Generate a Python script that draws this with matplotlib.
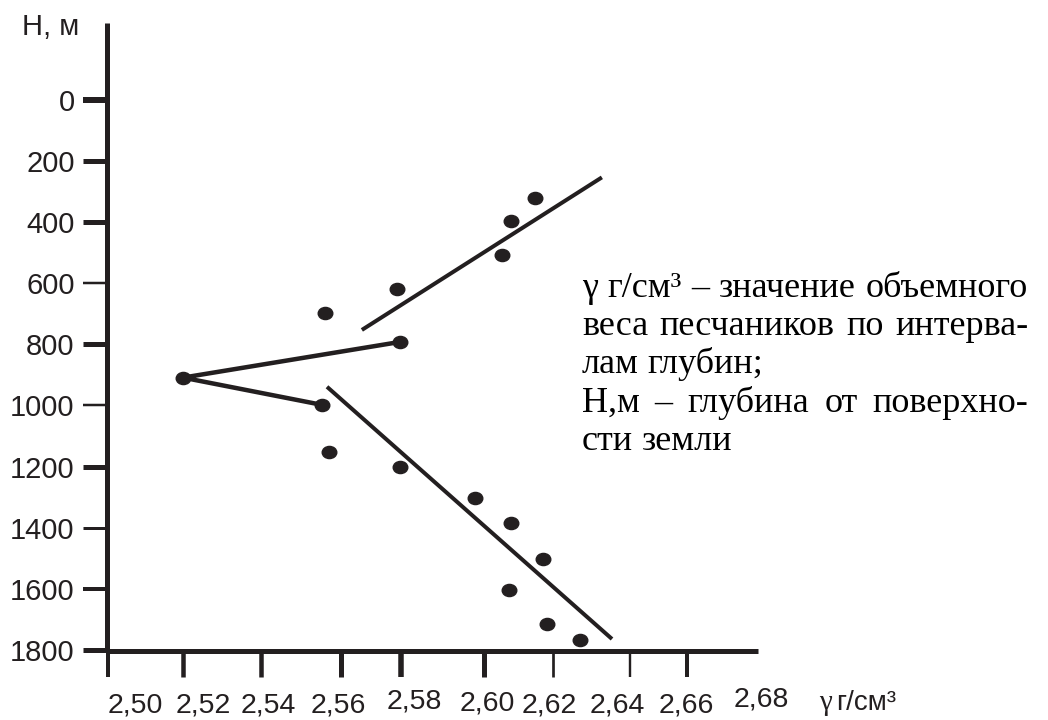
import matplotlib
matplotlib.use("Agg")
import matplotlib.pyplot as plt
import matplotlib.transforms as mtransforms
from matplotlib.path import Path

# Volume weight of sandstones vs depth
gamma = [2.614, 2.6075, 2.605, 2.577, 2.558, 2.578, 2.520, 2.557,
         2.559, 2.578, 2.598, 2.6075, 2.616, 2.607, 2.617, 2.626]
depth = [320, 398, 509, 619, 698, 792, 909, 998,
         1151, 1203, 1304, 1386, 1503, 1604, 1715, 1767]

# trend lines (gamma, depth) end points
upper_line_g = [2.5677, 2.6317]
upper_line_h = [753, 254]
lower_line_g = [2.5584, 2.6344]
lower_line_h = [939, 1764]
zigzag_idx = [5, 6, 7]  # points joined by the broken line

# axis ticks as drawn in the original (hand placed)
x_tick_pos = [2.500, 2.520, 2.5408, 2.5621, 2.5781, 2.6003, 2.6187, 2.6392, 2.6544]
x_tick_width_px = [4, 4.5, 4.5, 5, 5.5, 5, 2.7, 2.4, 4]
x_labels = ["2,50", "2,52", "2,54", "2,56", "2,58", "2,60", "2,62", "2,64", "2,66", "2,68"]
x_label_at = [2.5072, 2.5253, 2.5427, 2.5613, 2.5816, 2.6011, 2.6176, 2.6357, 2.6541, 2.6741]
x_label_ypx = [705, 705, 705, 705, 702, 703, 706, 705, 705, 699]

y_ticks = [0, 200, 400, 600, 800, 1000, 1200, 1400, 1600, 1800]
y_tick_width_px = [6, 5, 5, 2.5, 5, 2.5, 5, 3, 4, 5]

note_lines = [
    ("γ г/см³ – значение объемного", True),
    ("веса песчаников по интерва-", True),
    ("лам глубин;", False),
    ("Н,м – глубина от поверхно-", True),
    ("сти земли", False),
]

INK = "#231f20"
W, H = 1048, 720
PT = 0.72  # points per pixel at dpi 100
SANS = ["Liberation Sans", "DejaVu Sans"]
SERIF = ["Liberation Serif", "DejaVu Serif"]

# slightly flattened dot, like the hand-drawn ones
ell = Path.unit_circle().transformed(mtransforms.Affine2D().scale(1.2, 1.0))

fig = plt.figure(figsize=(W / 100, H / 100), dpi=100)
ax = fig.add_axes([107 / W, (H - 651) / H, (758 - 107) / W, (651 - 23) / H])

x0 = 2.50 - 1 / 3750
ax.set_xlim(x0, x0 + 651 / 3750)
ax.set_ylim(1800 + 1 / 0.3067, -251)

for s in ["top", "right"]:
    ax.spines[s].set_visible(False)
for s in ["left", "bottom"]:
    ax.spines[s].set_linewidth(5 * PT)
    ax.spines[s].set_color(INK)
    ax.spines[s].set_capstyle("butt")

# data
ax.plot(gamma, depth, linestyle="none", marker=ell, color=INK, markersize=10.5,
        zorder=3, clip_on=False)
ax.plot(upper_line_g, upper_line_h, color=INK, lw=4 * PT, solid_capstyle="butt")
ax.plot(lower_line_g, lower_line_h, color=INK, lw=4 * PT, solid_capstyle="butt")
ax.plot([gamma[i] for i in zigzag_idx], [depth[i] for i in zigzag_idx],
        color=INK, lw=4.5 * PT, solid_capstyle="butt", solid_joinstyle="miter")

# y axis ticks
ax.set_yticks(y_ticks)
ax.set_yticklabels([str(v) for v in y_ticks], fontsize=21, family=SANS, color=INK)
ax.tick_params(axis="y", direction="out", length=24 * PT, pad=6, color=INK)
for t, w in zip(ax.yaxis.get_major_ticks(), y_tick_width_px):
    t.tick1line.set_markeredgewidth(w * PT)

# x axis ticks, labels placed apart like in the original
ax.set_xticks(x_tick_pos)
ax.set_xticklabels([""] * len(x_tick_pos))
ax.tick_params(axis="x", direction="out", length=26 * PT, color=INK)
for t, w in zip(ax.xaxis.get_major_ticks(), x_tick_width_px):
    t.tick1line.set_markeredgewidth(w * PT)

trans = mtransforms.blended_transform_factory(ax.transData, fig.transFigure)
for lab, xv, ypx in zip(x_labels, x_label_at, x_label_ypx):
    ax.text(xv, 1 - ypx / H, lab, transform=trans, ha="center", va="center",
            fontsize=20.5, family=SANS, color=INK)

# x unit label: serif gamma, sans units, common baseline
fig.text(819 / W, 1 - 710 / H, "γ", ha="left", va="baseline", fontsize=21,
         family=SERIF, color=INK)
fig.text(836 / W, 1 - 710 / H, "г/см³", ha="left", va="baseline", fontsize=20,
         family=SANS, color=INK)
fig.text(22 / W, 1 - 27 / H, "Н, м", ha="left", va="center", fontsize=21,
         family=SANS, color=INK)

# justified note on the right
renderer = fig.canvas.get_renderer()
left_px, right_px = 582, 1028
base_px = [297, 335, 373, 412, 450]
for (line, justify), yb in zip(note_lines, base_px):
    words = line.split(" ")
    texts = [fig.text(0, 0, w, fontsize=26, va="baseline", color="black",
                      family=SERIF) for w in words]
    widths = [t.get_window_extent(renderer).width for t in texts]
    if justify and len(words) > 1:
        gap = (right_px - left_px - sum(widths)) / (len(words) - 1)
    else:
        gap = 9
    x = left_px
    for t, w in zip(texts, widths):
        t.set_position((x / W, 1 - yb / H))
        x += w + gap

fig.savefig("out.png", dpi=100)
